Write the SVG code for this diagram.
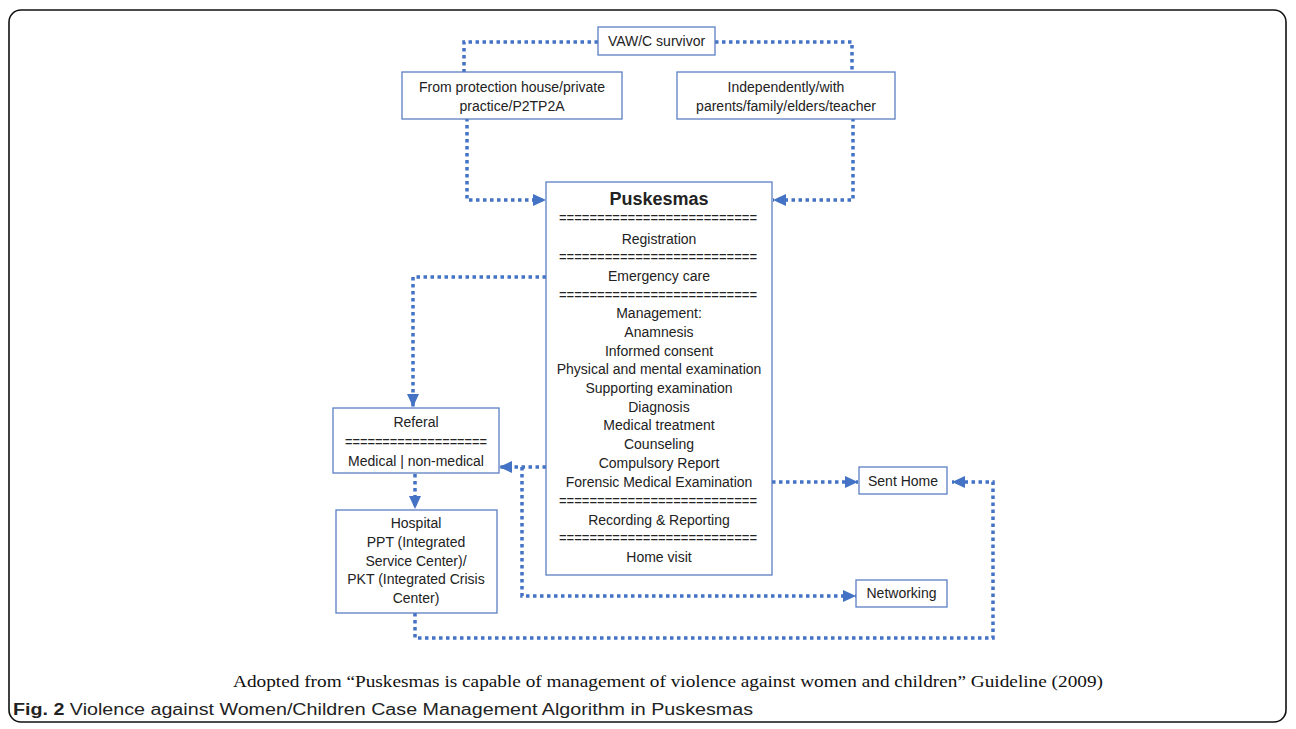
<svg xmlns="http://www.w3.org/2000/svg" width="1296" height="729" viewBox="0 0 1296 729">
<defs>
<style>
.frame{fill:#fff;stroke:#111;stroke-width:1.6}
.box{fill:#fff;stroke:#5b7fc4;stroke-width:1.3}
.t{font-family:"Liberation Sans",Arial,sans-serif;font-size:14px;fill:#222;text-anchor:middle}
.b{font-weight:bold;font-size:18px}
.c{fill:none;stroke:#4472c4;stroke-width:3.5;stroke-dasharray:3.5 3.5}
.cap{font-family:"Liberation Serif","Times New Roman",serif;font-size:17px;fill:#111;text-anchor:middle}
.fig{font-family:"Liberation Sans",Arial,sans-serif;font-size:16px;fill:#222}
</style>
<marker id="ah" markerUnits="userSpaceOnUse" markerWidth="14" markerHeight="14" refX="13" refY="7" orient="auto">
<path d="M0,1 L13,7 L0,13 Z" fill="#4472c4"/>
</marker>
</defs>
<rect class="frame" x="9" y="10" width="1277" height="712" rx="12"/>

<g id="connectors">
<path class="c" d="M598,42 H464 V72"/>
<path class="c" d="M715,42 H852 V72"/>
<path class="c" d="M467,118 V200 H546" marker-end="url(#ah)"/>
<path class="c" d="M853,118 V200 H773" marker-end="url(#ah)"/>
<path class="c" d="M546,277 H413 V407" marker-end="url(#ah)"/>
<path class="c" d="M546,467 H499" marker-end="url(#ah)"/>
<path class="c" d="M522,467 V596 H856" marker-end="url(#ah)"/>
<path class="c" d="M772,482 H858" marker-end="url(#ah)"/>
<path class="c" d="M415,474 V509" marker-end="url(#ah)"/>
<path class="c" d="M415,613 V638 H993 V482 H952" marker-end="url(#ah)"/>
</g>

<g id="survivor">
<rect class="box" x="598" y="27" width="117" height="28"/>
<text class="t" x="656.5" y="46">VAW/C survivor</text>
</g>

<g id="protection">
<rect class="box" x="402" y="72" width="220" height="47"/>
<text class="t" x="512" y="92">From protection house/private</text>
<text class="t" x="512" y="111">practice/P2TP2A</text>
</g>

<g id="independently">
<rect class="box" x="677" y="72" width="218" height="47"/>
<text class="t" x="786" y="92">Independently/with</text>
<text class="t" x="786" y="111">parents/family/elders/teacher</text>
</g>

<g id="puskesmas">
<rect class="box" x="546" y="182" width="226" height="393"/>
<text class="t b" x="659" y="205">Puskesmas</text>
<text class="t" x="658" y="223" textLength="198" lengthAdjust="spacingAndGlyphs">==========================</text>
<text class="t" x="659" y="244">Registration</text>
<text class="t" x="658" y="262" textLength="198" lengthAdjust="spacingAndGlyphs">==========================</text>
<text class="t" x="659" y="281">Emergency care</text>
<text class="t" x="658" y="300" textLength="198" lengthAdjust="spacingAndGlyphs">==========================</text>
<text class="t" x="659" y="318">Management:</text>
<text class="t" x="659" y="337">Anamnesis</text>
<text class="t" x="659" y="356">Informed consent</text>
<text class="t" x="659" y="374">Physical and mental examination</text>
<text class="t" x="659" y="393">Supporting examination</text>
<text class="t" x="659" y="412">Diagnosis</text>
<text class="t" x="659" y="430">Medical treatment</text>
<text class="t" x="659" y="449">Counseling</text>
<text class="t" x="659" y="468">Compulsory Report</text>
<text class="t" x="659" y="487">Forensic Medical Examination</text>
<text class="t" x="658" y="506" textLength="198" lengthAdjust="spacingAndGlyphs">==========================</text>
<text class="t" x="659" y="525">Recording &amp; Reporting</text>
<text class="t" x="658" y="543" textLength="198" lengthAdjust="spacingAndGlyphs">==========================</text>
<text class="t" x="659" y="562">Home visit</text>
</g>

<g id="referal">
<rect class="box" x="333" y="408" width="166" height="65"/>
<text class="t" x="416" y="427">Referal</text>
<text class="t" x="416" y="447" textLength="142" lengthAdjust="spacingAndGlyphs">===================</text>
<text class="t" x="416" y="466">Medical | non-medical</text>
</g>

<g id="hospital">
<rect class="box" x="336" y="510" width="161" height="103"/>
<text class="t" x="416" y="528">Hospital</text>
<text class="t" x="416" y="547">PPT (Integrated</text>
<text class="t" x="416" y="566">Service Center)/</text>
<text class="t" x="416" y="584">PKT (Integrated Crisis</text>
<text class="t" x="416" y="603">Center)</text>
</g>

<g id="senthome">
<rect class="box" x="859" y="467" width="88" height="27"/>
<text class="t" x="903" y="486">Sent Home</text>
</g>

<g id="networking">
<rect class="box" x="856" y="580" width="91" height="27"/>
<text class="t" x="901.5" y="598">Networking</text>
</g>

<text class="cap" x="668" y="687" textLength="870" lengthAdjust="spacingAndGlyphs">Adopted from “Puskesmas is capable of management of violence against women and children” Guideline (2009)</text>
<text class="fig" x="13" y="715" textLength="740" lengthAdjust="spacingAndGlyphs"><tspan font-weight="bold">Fig. 2</tspan> Violence against Women/Children Case Management Algorithm in Puskesmas</text>
</svg>
